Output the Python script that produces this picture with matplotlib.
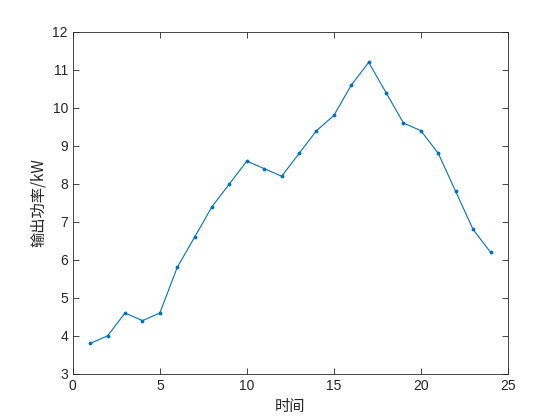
import matplotlib
matplotlib.use("Agg")
import matplotlib.pyplot as plt

hours = list(range(1, 25))
power = [3.8, 4.0, 4.6, 4.4, 4.6, 5.8, 6.6, 7.4, 8.0, 8.6, 8.4, 8.2,
         8.8, 9.4, 9.8, 10.6, 11.2, 10.4, 9.6, 9.4, 8.8, 7.8, 6.8, 6.2]
xlabel = "时间"
ylabel = "输出功率/kW"

plt.rcParams['font.family'] = ['Liberation Sans', 'Noto Sans CJK SC']

fig = plt.figure(figsize=(5.6, 4.2), dpi=100)
ax = fig.add_axes([0.13, 0.11, 0.777, 0.814])
ax.plot(hours, power, color='#0072BD', marker='.', markersize=3.5, linewidth=0.8)
ax.set_xlim(0, 25)
ax.set_ylim(3, 12)
ax.set_xticks(range(0, 26, 5))
ax.set_yticks(range(3, 13))
ax.tick_params(direction='in', top=True, right=True, labelsize=10, colors='#262626', length=4, width=0.6)
for s in ax.spines.values():
    s.set_linewidth(0.6)
    s.set_color('#262626')
ax.set_xlabel(xlabel, fontsize=11, color='#262626', family=['Noto Sans CJK SC', 'DejaVu Sans'])
ax.set_ylabel(ylabel, fontsize=11, color='#262626', family=['Noto Sans CJK SC', 'DejaVu Sans'])
fig.savefig('out.png', dpi=100)
